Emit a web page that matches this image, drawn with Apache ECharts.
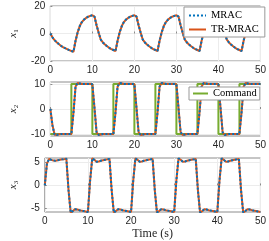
<!DOCTYPE html>
<html><head><meta charset="utf-8">
<script src="https://cdn.jsdelivr.net/npm/echarts@6/dist/echarts.min.js"></script>
<style>html,body{margin:0;padding:0;background:#fff}#c{width:269px;height:241px}</style>
</head><body><div id="c"></div><script>
// time samples (s)
const time = [0,0.5,1,1.5,2,2.5,3,3.5,4,4.5,5,5.5,6,6.5,7,7.5,8,8.5,9,9.5,
10,10.5,11,11.5,12,12.5,13,13.5,14,14.5,15,15.5,16,16.5,17,17.5,18,18.5,19,19.5,
20,20.5,21,21.5,22,22.5,23,23.5,24,24.5,25,25.5,26,26.5,27,27.5,28,28.5,29,29.5,
30,30.5,31,31.5,32,32.5,33,33.5,34,34.5,35,35.5,36,36.5,37,37.5,38,38.5,39,39.5,
40,40.5,41,41.5,42,42.5,43,43.5,44,44.5,45,45.5,46,46.5,47,47.5,48,48.5,49,49.5,50];

const mracX1 = [0,-2.8,-4.8,-6.3,-7.7,-8.9,-9.9,-10.7,-11.4,-12.1,-12.7,-13.3,-5.3,0.9,5.4,8.3,10.1,11.3,12.2,12.8,
13.3,12.3,6,0.5,-4.5,-6.5,-8,-9.3,-10.4,-11.3,-12,-12.8,-5.3,0.9,5.4,8.3,10.1,11.3,12.2,12.8,
13.3,12.3,6,0.5,-4.5,-6.5,-8,-9.3,-10.4,-11.3,-12,-12.8,-5.3,0.9,5.4,8.3,10.1,11.3,12.2,12.8,
13.3,12.3,6,0.5,-4.5,-6.5,-8,-9.3,-10.4,-11.3,-12,-12.8,-5.3,0.9,5.4,8.3,10.1,11.3,12.2,12.8,
13.3,12.3,6,0.5,-4.5,-6.5,-8,-9.3,-10.4,-11.3,-12,-12.8,-5.3,0.9,5.4,8.3,10.1,11.3,12.2,12.8,13.3];
const trmracX1 = [0,-2.8,-4.8,-6.3,-7.7,-8.9,-9.9,-10.7,-11.4,-12.1,-12.7,-13.3,-5.3,0.9,5.4,8.3,10.1,11.3,12.2,12.8,
13.3,12.3,6,0.5,-4.5,-6.5,-8,-9.3,-10.4,-11.3,-12,-12.8,-5.3,0.9,5.4,8.3,10.1,11.3,12.2,12.8,
13.3,12.3,6,0.5,-4.5,-6.5,-8,-9.3,-10.4,-11.3,-12,-12.8,-5.3,0.9,5.4,8.3,10.1,11.3,12.2,12.8,
13.3,12.3,6,0.5,-4.5,-6.5,-8,-9.3,-10.4,-11.3,-12,-12.8,-5.3,0.9,5.4,8.3,10.1,11.3,12.2,12.8,
13.3,12.3,6,0.5,-4.5,-6.5,-8,-9.3,-10.4,-11.3,-12,-12.8,-5.3,0.9,5.4,8.3,10.1,11.3,12.2,12.8,13.3];

const mracX2 = [0,-6.5,-10.2,-10.4,-10.1,-10,-10,-10,-10,-10,-10,-1.5,9,10.4,10.2,10,10,10,10,10,
9.9,0.5,-9.3,-10.4,-10.2,-10,-10,-10,-10,-10,-10,-1.5,9,10.4,10.2,10,10,10,10,10,
9.9,0.5,-9.3,-10.4,-10.2,-10,-10,-10,-10,-10,-10,-1.5,9,10.4,10.2,10,10,10,10,10,
9.9,0.5,-9.3,-10.4,-10.2,-10,-10,-10,-10,-10,-10,-1.5,9,10.4,10.2,10,10,10,10,10,
9.9,0.5,-9.3,-10.4,-10.2,-10,-10,-10,-10,-10,-10,-1.5,9,10.4,10.2,10,10,10,10,10,10];
const trmracX2 = [0,-6.5,-10.2,-10.4,-10.1,-10,-10,-10,-10,-10,-10,-1.5,9,10.4,10.2,10,10,10,10,10,
9.9,0.5,-9.3,-10.4,-10.2,-10,-10,-10,-10,-10,-10,-1.5,9,10.4,10.2,10,10,10,10,10,
9.9,0.5,-9.3,-10.4,-10.2,-10,-10,-10,-10,-10,-10,-1.5,9,10.4,10.2,10,10,10,10,10,
9.9,0.5,-9.3,-10.4,-10.2,-10,-10,-10,-10,-10,-10,-1.5,9,10.4,10.2,10,10,10,10,10,
9.9,0.5,-9.3,-10.4,-10.2,-10,-10,-10,-10,-10,-10,-1.5,9,10.4,10.2,10,10,10,10,10,10];

const mracX3 = [0,4.8,5.8,5.6,5.45,5.4,5.5,5.6,5.7,5.75,5.85,-1,-5.9,-5.6,-5.2,-5.25,-5.4,-5.5,-5.6,-5.7,
-5.8,1,5.9,5.6,5.2,5.25,5.4,5.5,5.6,5.7,5.8,-1,-5.9,-5.6,-5.2,-5.25,-5.4,-5.5,-5.6,-5.7,
-5.8,1,5.9,5.6,5.2,5.25,5.4,5.5,5.6,5.7,5.8,-1,-5.9,-5.6,-5.2,-5.25,-5.4,-5.5,-5.6,-5.7,
-5.8,1,5.9,5.6,5.2,5.25,5.4,5.5,5.6,5.7,5.8,-1,-5.9,-5.6,-5.2,-5.25,-5.4,-5.5,-5.6,-5.7,
-5.8,1,5.9,5.6,5.2,5.25,5.4,5.5,5.6,5.7,5.8,-1,-5.9,-5.6,-5.2,-5.25,-5.4,-5.5,-5.6,-5.7,-5.8];
const trmracX3 = [0,4.8,5.8,5.6,5.45,5.4,5.5,5.6,5.7,5.75,5.85,-1,-5.9,-5.6,-5.2,-5.25,-5.4,-5.5,-5.6,-5.7,
-5.8,1,5.9,5.6,5.2,5.25,5.4,5.5,5.6,5.7,5.8,-1,-5.9,-5.6,-5.2,-5.25,-5.4,-5.5,-5.6,-5.7,
-5.8,1,5.9,5.6,5.2,5.25,5.4,5.5,5.6,5.7,5.8,-1,-5.9,-5.6,-5.2,-5.25,-5.4,-5.5,-5.6,-5.7,
-5.8,1,5.9,5.6,5.2,5.25,5.4,5.5,5.6,5.7,5.8,-1,-5.9,-5.6,-5.2,-5.25,-5.4,-5.5,-5.6,-5.7,
-5.8,1,5.9,5.6,5.2,5.25,5.4,5.5,5.6,5.7,5.8,-1,-5.9,-5.6,-5.2,-5.25,-5.4,-5.5,-5.6,-5.7,-5.8];

const cmdTime = [0,5,5,10,10,15,15,20,20,25,25,30,30,35,35,40,40,45,45,50];
const cmdValue = [-10,-10,10,10,-10,-10,10,10,-10,-10,10,10,-10,-10,10,10,-10,-10,10,10];

const xTicks = [0,10,20,30,40,50];
const y1Ticks = [-20,0,20];
const y2Ticks = [-10,0,10];
const y3Ticks = [-5,0,5];
const yNames = ['1','2','3'];

const pair = (t, v) => t.map((x, i) => [x, v[i]]);
const gridColor = '#8c8c8c';
const sans = 'Liberation Sans';
const serif = 'Liberation Serif';

function xAx(i, withName) {
  return {
    type: 'value', gridIndex: i, min: xTicks[0], max: xTicks[xTicks.length-1], interval: xTicks[1]-xTicks[0],
    axisLine: {show: false},
    axisTick: {inside: true, length: 2, lineStyle: {color: gridColor}},
    axisLabel: {margin: 4, fontSize: 10, fontFamily: sans, color: '#262626', showMinLabel: true, showMaxLabel: true},
    splitLine: {show: true, lineStyle: {color: '#ececec', width: 1}},
    name: withName ? 'Time (s)' : '', nameLocation: 'middle', nameGap: 16,
    nameTextStyle: {fontFamily: serif, fontSize: 12, color: '#262626'}
  };
}
function yAx(i, ticks, min, max) {
  return {
    type: 'value', gridIndex: i, min: min, max: max,
    axisLine: {show: false},
    axisTick: {inside: true, length: 2, lineStyle: {color: gridColor}, customValues: ticks},
    axisLabel: {margin: 5, fontSize: 10, fontFamily: sans, color: '#262626', customValues: ticks},
    splitLine: {show: true, lineStyle: {color: '#ececec', width: 1}},
    name: '{v|x}{s|' + yNames[i] + '}', nameLocation: 'middle', nameRotate: 90, nameGap: 21,
    nameTextStyle: {
      rich: {
        v: {fontFamily: serif, fontStyle: 'italic', fontSize: 11, color: '#262626', lineHeight: 13},
        s: {fontFamily: serif, fontSize: 7, color: '#262626', verticalAlign: 'bottom'}
      }
    }
  };
}
function ser(name, i, data, color, dotted) {
  return {
    name: name, type: 'line', xAxisIndex: i, yAxisIndex: i, data: data,
    symbol: 'none', showSymbol: false, color: color,
    lineStyle: {color: color, width: 2, type: dotted ? 'dotted' : 'solid'},
    silent: true
  };
}

const grids = [
  {left: 39.5, right: 5.5, top: 6, height: 55},
  {left: 39.5, right: 5.5, top: 82, height: 54},
  {left: 39.5, right: 5.5, top: 158, height: 54}
].map(g => Object.assign(g, {show: true, borderColor: gridColor, borderWidth: 1, backgroundColor: 'transparent'}));

const legendCommon = {
  orient: 'vertical', backgroundColor: '#fff', borderColor: '#999', borderWidth: 1,
  selectedMode: false, itemStyle: {opacity: 0},
  textStyle: {fontFamily: serif, fontSize: 10.5, color: '#000'}
};

const chart = echarts.init(document.getElementById('c'), null, {renderer: 'canvas'});
chart.setOption({
  animation: false,
  backgroundColor: '#fff',
  grid: grids,
  xAxis: [xAx(0, false), xAx(1, false), xAx(2, true)],
  yAxis: [yAx(0, y1Ticks, -20, 20), yAx(1, y2Ticks, -10.8, 10.8), yAx(2, y3Ticks, -5.8, 6)],
  legend: [
    Object.assign({data: ['MRAC', 'TR-MRAC'], left: 184, top: 7, padding: [3, 6, 2, 4],
     itemGap: 3, itemWidth: 17, itemHeight: 10}, legendCommon),
    Object.assign({data: ['Command'], left: 189, top: 87, padding: [1, 3, 1, 3],
     itemWidth: 15, itemHeight: 9}, legendCommon)
  ],
  series: [
    ser('Command', 1, pair(cmdTime, cmdValue), '#77AC30', false),
    ser('TR-MRAC', 0, pair(time, trmracX1), '#D95319', false),
    ser('TR-MRAC', 1, pair(time, trmracX2), '#D95319', false),
    ser('TR-MRAC', 2, pair(time, trmracX3), '#D95319', false),
    ser('MRAC', 0, pair(time, mracX1), '#0072BD', true),
    ser('MRAC', 1, pair(time, mracX2), '#0072BD', true),
    ser('MRAC', 2, pair(time, mracX3), '#0072BD', true)
  ]
});
</script></body></html>
